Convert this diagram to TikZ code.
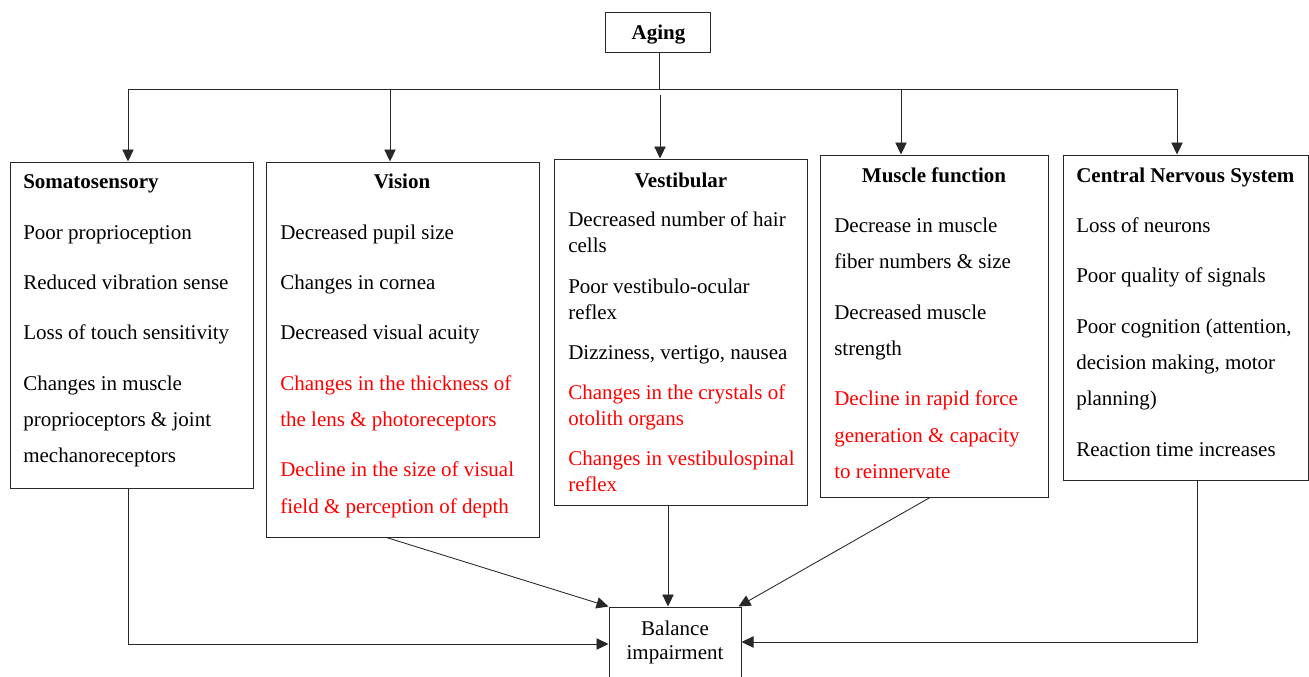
\documentclass[tikz,border=0pt]{standalone}
\usepackage{fontspec}
\setmainfont{Liberation Serif}
\usetikzlibrary{arrows.meta,fit,calc}
\definecolor{redtxt}{RGB}{255,0,0}
\definecolor{linec}{RGB}{40,40,40}
\begin{document}
\begin{tikzpicture}[x=0.75pt,y=-0.75pt,
  box/.style={draw=linec,line width=0.75pt,inner sep=0pt,fit={#1}},
  txt/.style={anchor=base west,inner sep=0pt,font=\fontsize{15.75}{18}\selectfont},
  hd/.style={anchor=base,inner sep=0pt,font=\fontsize{15.75}{18}\selectfont\bfseries},
  rtxt/.style={txt,text=redtxt},
  btxt/.style={anchor=base,inner sep=0pt,font=\fontsize{15.75}{18}\selectfont},
  con/.style={draw=linec,line width=0.65pt},
  arr/.style={con,-{Triangle[length=9pt,width=8.5pt]}}]
\useasboundingbox (0,0) rectangle (1309,676);
\fill[white] (0,0) rectangle (1309,676);
% boxes
\node[box={(605,12) (710,52)}] (aging) {};
\node[hd] (agingt) at (658.5,39) {Aging};
\node[box={(10,162) (253,488)}] (soma) {};
\node[box={(266,162) (539,537)}] (vis) {};
\node[box={(554,159) (807,505)}] (vest) {};
\node[box={(820,155) (1048,497)}] (mus) {};
\node[box={(1063,155) (1308,480)}] (cns) {};
\node[box={(609,607) (741,700)}] (bal) {};
% Somatosensory
\node[hd,anchor=base west] (s0) at (23,188) {Somatosensory};
\node[txt] (s1) at (23,239) {Poor proprioception};
\node[txt] (s2) at (23,289) {Reduced vibration sense};
\node[txt] (s3) at (23,339) {Loss of touch sensitivity};
\node[txt] (s4) at (23,390) {Changes in muscle};
\node[txt] (s5) at (23,426) {proprioceptors \& joint};
\node[txt] (s6) at (23,462) {mechanoreceptors};
% Vision
\node[hd] (v0) at (402,188) {Vision};
\node[txt] (v1) at (280,239) {Decreased pupil size};
\node[txt] (v2) at (280,289) {Changes in cornea};
\node[txt] (v3) at (280,339) {Decreased visual acuity};
\node[rtxt] (v4) at (280,390) {Changes in the thickness of};
\node[rtxt] (v5) at (280,426) {the lens \& photoreceptors};
\node[rtxt] (v6) at (280,476) {Decline in the size of visual};
\node[rtxt] (v7) at (280,513) {field \& perception of depth};
% Vestibular
\node[hd] (e0) at (681,187) {Vestibular};
\node[txt] (e1) at (568,226) {Decreased number of hair};
\node[txt] (e2) at (568,252) {cells};
\node[txt] (e3) at (568,293) {Poor vestibulo-ocular};
\node[txt] (e4) at (568,319) {reflex};
\node[txt] (e5) at (568,359) {Dizziness, vertigo, nausea};
\node[rtxt] (e6) at (568,399) {Changes in the crystals of};
\node[rtxt] (e7) at (568,425) {otolith organs};
\node[rtxt] (e8) at (568,465) {Changes in vestibulospinal};
\node[rtxt] (e9) at (568,491) {reflex};
% Muscle function
\node[hd] (m0) at (934,182) {Muscle function};
\node[txt] (m1) at (834,232) {Decrease in muscle};
\node[txt] (m2) at (834,268) {fiber numbers \& size};
\node[txt] (m3) at (834,319) {Decreased muscle};
\node[txt] (m4) at (834,355) {strength};
\node[rtxt] (m5) at (834,405) {Decline in rapid force};
\node[rtxt] (m6) at (834,442) {generation \& capacity};
\node[rtxt] (m7) at (834,478) {to reinnervate};
% CNS
\node[hd,anchor=base west] (c0) at (1076,182) {Central Nervous System};
\node[txt] (c1) at (1076,232) {Loss of neurons};
\node[txt] (c2) at (1076,282) {Poor quality of signals};
\node[txt] (c3) at (1076,333) {Poor cognition (attention,};
\node[txt] (c4) at (1076,369) {decision making, motor};
\node[txt] (c5) at (1076,405) {planning)};
\node[txt] (c6) at (1076,456) {Reaction time increases};
% Balance
\node[btxt] (b1) at (675,635) {Balance};
\node[btxt] (b2) at (675,659) {impairment};
% top connectors
\coordinate (hub) at (659,89);
\coordinate (hl) at (128,89);
\coordinate (h2) at (390,89);
\coordinate (h3) at (660,95);
\coordinate (h4) at (901,89);
\coordinate (hr) at (1177,89);
\draw[con] (aging.south -| hub) -- (hub);
\draw[con] (hl) -- (hr);
\draw[arr] (hl) -- (hl |- soma.north);
\draw[arr] (h2) -- (h2 |- vis.north);
\draw[arr] (h3) -- (h3 |- vest.north);
\draw[arr] (h4) -- (h4 |- mus.north);
\draw[arr] (hr) -- (hr |- cns.north);
% bottom connectors
\coordinate (sx) at (128,644);
\coordinate (cx) at (1197,642);
\coordinate (vx) at (668,0);
\draw[arr] (soma.south -| sx) -- (sx) -- (sx -| bal.west);
\draw[arr] ($(vis.south)+(-16,0)$) -- (bal.north west);
\draw[arr] (vest.south -| vx) -- (vx |- bal.north);
\draw[arr] ($(mus.south)+(-4,0)$) -- ($(bal.north east)+(-3,0)$);
\draw[arr] (cns.south -| cx) -- (cx) -- (cx -| bal.east);
\end{tikzpicture}
\end{document}
